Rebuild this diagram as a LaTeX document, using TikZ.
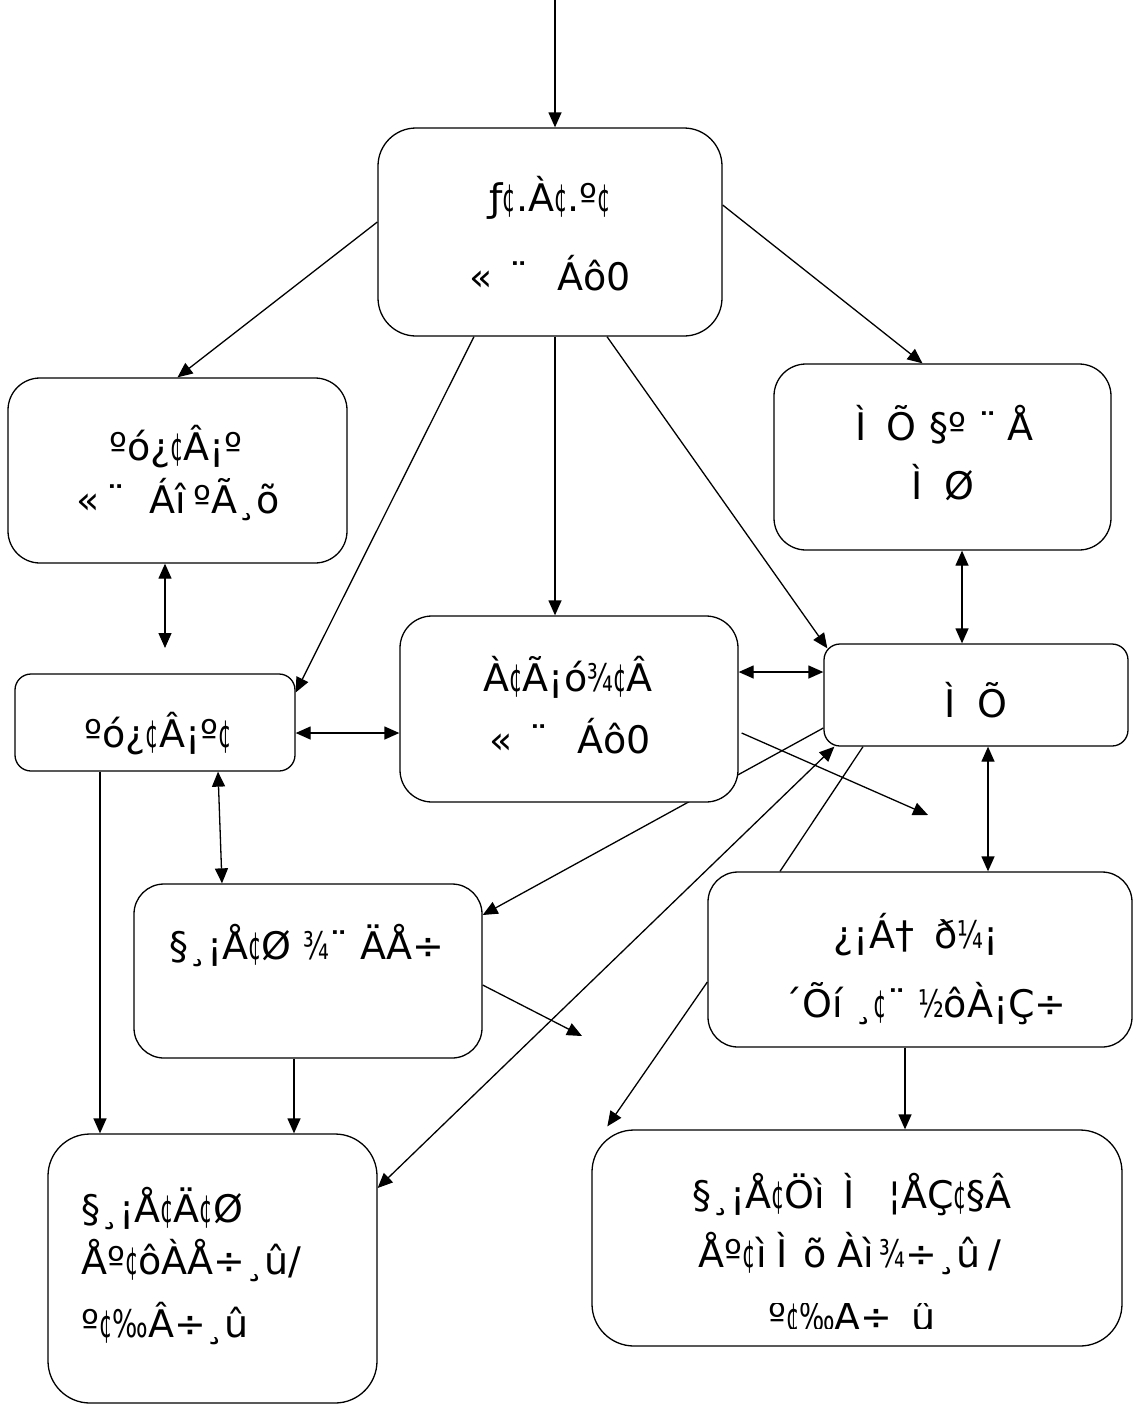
\documentclass[tikz,border=0pt]{standalone}
\usepackage{fontspec}
\usepackage{graphicx}
\setmainfont{DejaVu Sans}
\usetikzlibrary{arrows.meta,calc}
\pgfdeclarelayer{bg}
\pgfsetlayers{bg,main}
\newcommand\nc{\scalebox{0.55}[1]{¢}}
\newcommand\nf[1]{\scalebox{0.7}[1]{#1}}
\tikzset{
  box/.style={draw, line width=1.3pt, fill=white, inner sep=0pt, rounded corners=#1},
  box/.default=30pt,
  txt/.style={anchor=base, inner sep=0pt, font=\fontsize{38}{44}\selectfont},
  ltxt/.style={txt, anchor=base west},
  ln/.style={line width=1.3pt},
  arr/.style={ln, -{Triangle[length=15pt,width=13pt]}},
  darr/.style={ln, {Triangle[length=15pt,width=13pt]}-{Triangle[length=15pt,width=13pt]}}
}
\begin{document}
\begin{tikzpicture}[x=1pt,y=-1pt]
\useasboundingbox (0,0) rectangle (1136,1406);
% boxes
\node[box=38pt, minimum width=344pt, minimum height=208pt] (n1) at (550,232) {};
\node[box=32pt, minimum width=339pt, minimum height=185pt] (n2) at (177.5,470.5) {};
\node[box=32pt, minimum width=337pt, minimum height=186pt] (n3) at (942.5,457) {};
\node[box=16pt, minimum width=280pt, minimum height=97pt] (n4) at (155,722.5) {};
\node[box=32pt, minimum width=338pt, minimum height=186pt] (n5) at (569,709) {};
\node[box=16pt, minimum width=304pt, minimum height=102pt] (n6) at (976,695) {};
\node[box=30pt, minimum width=348pt, minimum height=174pt] (n7) at (308,971) {};
\node[box=30pt, minimum width=424pt, minimum height=175pt] (n8) at (920,959.5) {};
\node[box=42pt, minimum width=329pt, minimum height=269pt] (n9) at (212.5,1268.5) {};
\node[box=42pt, minimum width=530pt, minimum height=216pt] (n10) at (857,1238) {};
% texts
\node[txt] (t1a) at (550,211) {ƒ\nc{}.À\nc{}.º\nc{}};
\node[txt] (t1b) at (550,290) {«\hspace{17pt}¨\hspace{29pt}Áô0};
\node[txt] (t2a) at (176,460) {ºó¿\nc{}Â¡º};
\node[txt] (t2b) at (178,513) {«\hspace{7pt}¨\hspace{24pt}Áî\hspace{8pt}ºÃ¸õ};
\node[txt] (t3a) at (944,440) {Ì\hspace{20pt}Õ\hspace{13pt}§º\hspace{12pt}¨\hspace{10pt}Å};
\node[txt] (t3b) at (943,499) {Ì\hspace{21pt}Ø};
\node[txt] (t4) at (158,747) {ºó¿\nc{}Â¡º\nc{}};
\node[txt] (t5a) at (568,691) {À\nc{}Ã¡ó\nf{¾}\nc{}Â};
\node[txt] (t5b) at (570,753) {«\hspace{17pt}¨\hspace{29pt}Áô0};
\node[txt] (t6) at (976,717) {Ì\hspace{21pt}Õ};
\node[txt] (t7) at (307,959) {§¸¡Å\nc{}Ø \nf{¾}¨ ÄÅ÷};
\node[txt] (t8a) at (916,948) {¿¡Á†\hspace{20pt}ð\nf{¼}¡};
\node[txt] (t8b) at (925,1017) {´Õí ¸\nc{}¨ \nf{½}ôÀ¡Ç÷};
\node[ltxt] (t9a) at (81,1222) {§¸¡Å\nc{}Ä\nc{}Ø};
\node[ltxt] (t9b) at (81,1274) {Åº\nc{}ôÀÅ÷¸û/};
\node[ltxt] (t9c) at (81,1337) {º\nc{}\nf{‰}Â÷¸û};
\node[txt] (t10a) at (852,1208) {§¸¡Å\nc{}Öì\hspace{18pt}Ì\hspace{34pt}¦ÅÇ\nc{}§Â};
\node[txt] (t10b) at (850,1267) {Åº\nc{}ì\hspace{10pt}Ì\hspace{16pt}õ\hspace{10pt}Àì\hspace{6pt}\nf{¾}÷¸û\hspace{8pt}/};
\begin{scope}
\clip (592,1303) rectangle (1122,1328);
\node[txt] (t10c) at (852,1330) {º\nc{}\nf{‰}Â÷¸û};
\end{scope}
% free ends
\coordinate (top) at (555,0);
\coordinate (c7) at (165,648);
\coordinate (c11) at (928,815);
\coordinate (c18) at (582,1036);
\begin{pgfonlayer}{bg}
\fill[white] (0,0) rectangle (1136,1406);
\draw[arr] (top) -- ([xshift=5pt]n1.north);
\draw[arr] ([yshift=10pt]n1.west) -- (n2.north);
\draw[arr] ([yshift=27pt]n1.east) -- ([xshift=-20pt]n3.north);
\draw[arr] ([xshift=-76pt]n1.south) -- ([yshift=30pt]n4.east);
\draw[arr] ([xshift=5pt]n1.south) -- ([xshift=-14pt]n5.north);
\draw[arr] ([xshift=57pt]n1.south) -- ([shift={(4pt,-5pt)}]n6.north west);
\draw[darr] ([xshift=-12.5pt]n2.south) -- (c7);
\draw[darr] ([xshift=19.5pt]n3.south) -- ([xshift=-14pt]n6.north);
\draw[darr] ([yshift=-10.5pt]n4.east) -- ([yshift=-10.5pt]n4.east -| n5.west);
\draw[darr] ([yshift=37pt]n5.east) -- ([yshift=37pt]n5.east -| n6.west);
\draw[arr] ([shift={(3pt,-24pt)}]n5.east) -- (c11);
\draw[darr] ([xshift=12pt]n6.south) -- ([xshift=12pt]n6.south |- n8.north);
\draw[arr] ([yshift=-33pt]n6.west) -- ([yshift=56pt]n7.east);
\draw[darr] ([xshift=63pt]n4.south) -- ([xshift=-86pt]n7.north);
\draw[arr] ([xshift=-55pt]n4.south) -- ([xshift=-55pt]n4.south |- n9.north);
\draw[arr] ([xshift=-14pt]n7.south) -- ([xshift=-14pt]n7.south |- n9.north);
\draw[darr] ([yshift=80.5pt]n9.east) -- ([xshift=11pt]n6.south west);
\draw[arr] ([yshift=-14pt]n7.east) -- (c18);
\draw[ln] ([xshift=-113pt]n6.south) -- ([xshift=-140pt]n8.north);
\draw[arr] ([yshift=-22.5pt]n8.west) -- ([shift={(16pt,3pt)}]n10.north west);
\draw[arr] ([xshift=-15pt]n8.south) -- ([xshift=-15pt]n8.south |- n10.north);
\end{pgfonlayer}
\end{tikzpicture}
\end{document}
